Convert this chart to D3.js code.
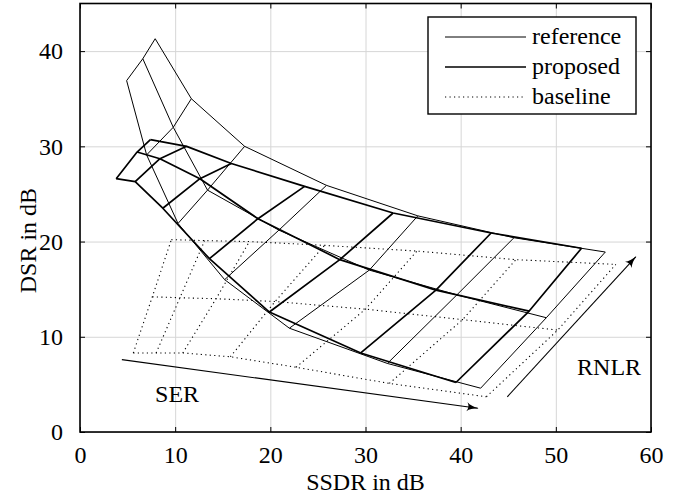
<!DOCTYPE html>
<html>
<head>
<meta charset="utf-8">
<script src="https://cdn.jsdelivr.net/npm/d3@7"></script>
<style>
  body { margin: 0; background: #fff; }
  text { font-family: "Liberation Serif", "Times New Roman", serif; }
</style>
</head>
<body>
<div id="chart"></div>
<script>
// tick values
const xTicks = [0, 10, 20, 30, 40, 50, 60];
const yTicks = [0, 10, 20, 30, 40];

// meshes: three RNLR levels (low / mid / high), each point = [SSDR, DSR] for increasing SER
const referenceLow  = [[4.9, 36.9], [7.0, 29.1], [10.3, 21.9], [15.2, 16.0], [22.0, 10.9], [32.3, 7.2], [42.1, 4.6]];
const referenceMid  = [[6.6, 39.2], [9.8, 32.0], [13.4, 25.4], [20.9, 21.2], [30.4, 17.0], [39.6, 14.4], [49.0, 12.0]];
const referenceHigh = [[7.9, 41.3], [11.7, 35.0], [17.3, 30.0], [25.9, 25.9], [35.5, 22.7], [45.6, 20.4], [55.2, 18.9]];

const proposedLow  = [[3.8, 26.6], [5.8, 26.3], [8.7, 23.5], [13.6, 18.2], [19.9, 12.6], [29.5, 8.3], [39.5, 5.2]];
const proposedMid  = [[6.0, 29.4], [8.4, 28.7], [12.6, 26.6], [18.7, 22.4], [27.3, 18.1], [37.4, 14.9], [47.2, 12.7]];
const proposedHigh = [[7.4, 30.7], [11.2, 30.0], [15.9, 28.2], [23.6, 25.8], [32.9, 23.0], [43.2, 20.9], [52.7, 19.3]];

const baselineLow  = [[5.6, 8.3], [8.0, 8.3], [10.8, 8.3], [15.8, 7.9], [22.7, 6.8], [32.5, 5.1], [42.7, 3.7]];
const baselineMid  = [[7.6, 14.2], [10.5, 14.1], [14.3, 14.0], [20.5, 13.7], [30.0, 12.9], [40.2, 11.8], [50.2, 10.7]];
const baselineHigh = [[9.6, 20.2], [13.1, 20.1], [17.8, 20.0], [25.7, 19.6], [35.4, 19.0], [45.8, 18.1], [56.3, 17.6]];

// direction arrows and their labels
const serArrow = [[4.4, 7.6], [41.8, 2.5]];
const rnlrArrow = [[44.9, 3.7], [58.4, 18.4]];
const annotations = [
    { text: 'SER', pos: [10.2, 4.0] },
    { text: 'RNLR', pos: [55.6, 6.9] }
];

const legendItems = [
    { label: 'reference', style: 'thin' },
    { label: 'proposed', style: 'thick' },
    { label: 'baseline', style: 'dotted' }
];

const styles = {
    thin: { width: 1, dash: null },
    thick: { width: 1.7, dash: null },
    dotted: { width: 1.1, dash: '1.2,3.3' }
};

const svgWidth = 687, svgHeight = 495;
const margin = { left: 80, right: 36, top: 3.5, bottom: 63 };
const width = svgWidth - margin.left - margin.right;
const height = svgHeight - margin.top - margin.bottom;
const fontSize = 24;

const svg = d3.select('#chart')
    .append('svg')
    .attr('width', svgWidth)
    .attr('height', svgHeight)
    .append('g')
    .attr('transform', `translate(${margin.left},${margin.top})`);

const xScale = d3.scaleLinear().domain([0, 60]).range([0, width]);
const yScale = d3.scaleLinear().domain([0, 45]).range([height, 0]);

////////////////////////////////////
/////////////// grid ///////////////
////////////////////////////////////
svg.append('g')
    .attr('transform', `translate(0,${height})`)
    .call(d3.axisBottom(xScale).tickValues(xTicks).tickSize(-height).tickFormat(''))
    .call(g => g.select('.domain').remove())
    .call(g => g.selectAll('line').attr('stroke', '#d6d6d6').attr('stroke-width', 1));

svg.append('g')
    .call(d3.axisLeft(yScale).tickValues(yTicks).tickSize(-width).tickFormat(''))
    .call(g => g.select('.domain').remove())
    .call(g => g.selectAll('line').attr('stroke', '#d6d6d6').attr('stroke-width', 1));

////////////////////////////////////
/////////////// meshes /////////////
////////////////////////////////////
const line = d3.line()
    .x(d => xScale(d[0]))
    .y(d => yScale(d[1]));

const plot = svg.append('g');

function drawMesh(rows, style, cls) {
    // rows = constant RNLR, columns = constant SER
    const cols = rows[0].map((_, i) => rows.map(r => r[i]));
    plot.selectAll('.' + cls)
        .data(rows.concat(cols))
        .join('path')
        .attr('class', cls)
        .attr('d', line)
        .attr('fill', 'none')
        .attr('stroke', 'black')
        .attr('stroke-width', styles[style].width)
        .attr('stroke-dasharray', styles[style].dash)
        .attr('stroke-linejoin', 'round');
}

drawMesh([baselineLow, baselineMid, baselineHigh], 'dotted', 'baseline');
drawMesh([referenceLow, referenceMid, referenceHigh], 'thin', 'reference');
drawMesh([proposedLow, proposedMid, proposedHigh], 'thick', 'proposed');

////////////////////////////////////
/////////////// arrows /////////////
////////////////////////////////////
svg.append('defs').append('marker')
    .attr('id', 'arrowhead')
    .attr('viewBox', '0 -5 12 10')
    .attr('refX', 11)
    .attr('refY', 0)
    .attr('markerWidth', 12)
    .attr('markerHeight', 10)
    .attr('markerUnits', 'userSpaceOnUse')
    .attr('orient', 'auto')
    .append('path')
    .attr('d', 'M0,-4.5 Q4,-1 12,0 Q4,1 0,4.5 Q3,0 0,-4.5 Z')
    .attr('fill', 'black');

plot.selectAll('.arrow')
    .data([serArrow, rnlrArrow])
    .join('path')
    .attr('class', 'arrow')
    .attr('d', line)
    .attr('fill', 'none')
    .attr('stroke', 'black')
    .attr('stroke-width', 1.1)
    .attr('marker-end', 'url(#arrowhead)');

plot.selectAll('.annot')
    .data(annotations)
    .join('text')
    .attr('class', 'annot')
    .attr('x', d => xScale(d.pos[0]))
    .attr('y', d => yScale(d.pos[1]))
    .attr('dy', '0.35em')
    .attr('text-anchor', 'middle')
    .attr('font-size', fontSize)
    .text(d => d.text);

////////////////////////////////////
//////////////// axes //////////////
////////////////////////////////////
// inward ticks on all four sides
const tickLen = 5;
svg.append('g')
    .attr('transform', `translate(0,${height})`)
    .call(d3.axisBottom(xScale).tickValues(xTicks).tickSize(-tickLen).tickPadding(14))
    .call(g => g.select('.domain').remove())
    .call(g => g.selectAll('text').attr('font-size', fontSize).attr('fill', 'black').style('font-family', '"Liberation Serif", serif'));

svg.append('g')
    .call(d3.axisLeft(yScale).tickValues(yTicks).tickSize(-tickLen).tickPadding(17))
    .call(g => g.select('.domain').remove())
    .call(g => g.selectAll('text').attr('font-size', fontSize).attr('fill', 'black').style('font-family', '"Liberation Serif", serif'));

svg.append('g')
    .call(d3.axisTop(xScale).tickValues(xTicks).tickSize(-tickLen).tickFormat(''))
    .call(g => g.select('.domain').remove());

svg.append('g')
    .attr('transform', `translate(${width},0)`)
    .call(d3.axisRight(yScale).tickValues(yTicks).tickSize(-tickLen).tickFormat(''))
    .call(g => g.select('.domain').remove());

svg.selectAll('.tick line').filter(function () { return d3.select(this).attr('stroke') !== '#d6d6d6'; })
    .attr('stroke', 'black').attr('stroke-width', 1);

svg.append('rect')
    .attr('width', width)
    .attr('height', height)
    .attr('fill', 'none')
    .attr('stroke', 'black')
    .attr('stroke-width', 1.6);

svg.append('text')
    .text('SSDR in dB')
    .attr('x', width / 2)
    .attr('y', height + 58)
    .attr('text-anchor', 'middle')
    .attr('font-size', fontSize);

svg.append('text')
    .text('DSR in dB')
    .attr('text-anchor', 'middle')
    .attr('font-size', fontSize)
    .attr('transform', `translate(${36 - margin.left},${yScale(20.1)}) rotate(-90)`);

////////////////////////////////////
/////////////// legend /////////////
////////////////////////////////////
const legend = svg.append('g')
    .attr('transform', `translate(${428 - margin.left},${17 - margin.top})`);

legend.append('rect')
    .attr('width', 208)
    .attr('height', 97)
    .attr('fill', 'white')
    .attr('stroke', 'black')
    .attr('stroke-width', 1.4);

const rows = legend.selectAll('.legend-row')
    .data(legendItems)
    .join('g')
    .attr('class', 'legend-row')
    .attr('transform', (d, i) => `translate(0,${20 + i * 30})`);

rows.append('line')
    .attr('x1', 17)
    .attr('x2', 98)
    .attr('stroke', 'black')
    .attr('stroke-width', d => styles[d.style].width)
    .attr('stroke-dasharray', d => styles[d.style].dash);

rows.append('text')
    .attr('x', 104)
    .attr('dy', '0.3em')
    .attr('font-size', fontSize)
    .text(d => d.label);
</script>
</body>
</html>
